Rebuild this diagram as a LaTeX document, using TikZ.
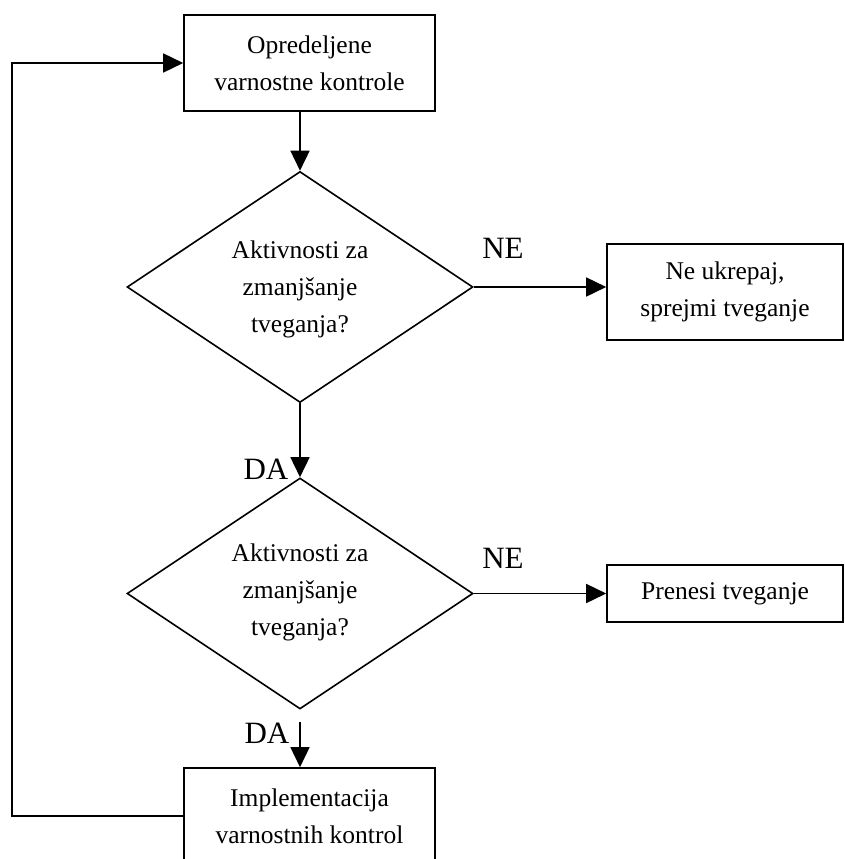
\documentclass[tikz,border=0pt]{standalone}
\usepackage{fontspec}
\setmainfont{Liberation Serif}
\usetikzlibrary{shapes.geometric,arrows.meta}
\begin{document}
\begin{tikzpicture}[x=1pt,y=-1pt,
  line width=1.6pt,
  every node/.style={font=\fontsize{25.5}{37}\selectfont, align=center},
  box/.style={draw, rectangle, inner sep=0pt},
  decision/.style={draw, diamond, inner sep=0pt, minimum width=346pt, minimum height=231pt},
  tag/.style={font=\fontsize{31}{36}\selectfont, inner sep=0pt},
  flow/.style={-{Triangle[length=20pt,width=19pt]}}
]
\useasboundingbox (0,0) rectangle (845,859);

% process boxes
\node[box, minimum width=251pt, minimum height=96pt] (b1) at (309.5,63) {Opredeljene\\varnostne kontrole};
\node[box, minimum width=236pt, minimum height=96pt] (b2) at (725,292) {Ne ukrepaj,\\sprejmi tveganje};
\node[box, minimum width=236pt, minimum height=57pt] (b3) at (725,593.5) {Prenesi tveganje};
\node[box, minimum width=251pt, minimum height=96pt] (b4) at (309.5,816) {Implementacija\\varnostnih kontrol};

% decisions
\node[decision] (d1) at (300,287) {};
\node (d1t) at (300,289) {Aktivnosti za\\zmanjšanje\\tveganja?};
\node[decision] (d2) at (300,593.5) {};
\node (d2t) at (300,592) {Aktivnosti za\\zmanjšanje\\tveganja?};

% branch labels
\node[tag] (ne1) at (503,248) {NE};
\node[tag] (ne2) at (503,558) {NE};
\node[tag] (da1) at (266,469) {DA};
\node[tag] (da2) at (267,733) {DA};

% connectors
\draw[flow] (b1.south -| d1.north) -- (d1.north);
\draw[flow] (d1.east) -- (d1.east -| b2.west);
\draw[flow] (d1.south) -- (d2.north);
\draw[flow] (d2.east) -- (b3.west);
\draw[flow] ([yshift=-12pt]d2.south) -- (d2.south |- b4.north);

% feedback loop
\coordinate (fb) at (12,0);
\draw[flow] (b4.west) -- (b4.west -| fb) -- (b1.west -| fb) -- (b1.west);
\end{tikzpicture}
\end{document}
